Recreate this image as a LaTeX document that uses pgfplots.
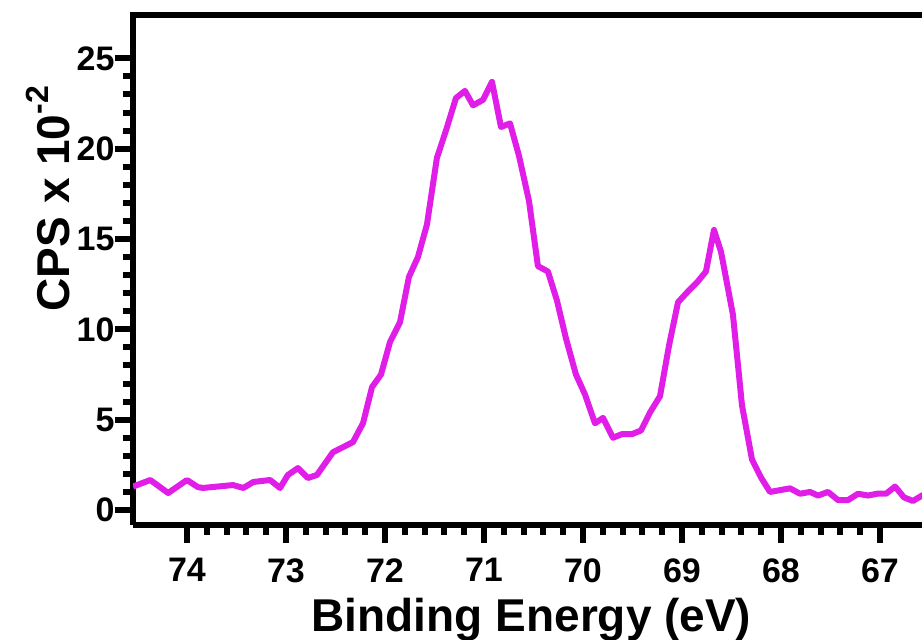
\documentclass[border=0pt]{standalone}
\usepackage{pgfplots}
\pgfplotsset{compat=1.18}
\usepackage{fontspec}
\setmainfont{Liberation Sans}
\definecolor{mag}{HTML}{E01EE8}
\begin{document}
\begin{tikzpicture}[x=1pt,y=1pt]
\begin{axis}[at={(0,0)},anchor=south west,scale only axis,
 width=797pt,height=510pt,
 x dir=reverse, xmin=66.495, xmax=74.545, ymin=-0.83, ymax=27.4,
 axis line style={line width=6pt},
 axis x line*=bottom, axis y line*=left,
 xtick={67,68,69,70,71,72,73,74}, minor x tick num=4,
 ytick={0,5,10,15,20,25}, minor y tick num=4,
 tick align=outside,
 major tick length=18pt, minor tick length=10pt,
 every tick/.style={line width=6pt,black},
 tick label style={font=\bfseries\fontsize{34}{34}\selectfont},
 /pgf/number format/assume math mode=true,
 xticklabel style={yshift=-12pt},
 yticklabel style={xshift=3pt},
 xlabel={\bfseries\fontsize{46}{46}\selectfont Binding Energy (eV)},
 ylabel={\bfseries\fontsize{46}{46}\selectfont CPS x 10\raisebox{0.45em}{\fontsize{32}{32}\selectfont -2}},
 xlabel style={at={(axis description cs:0.5,0)},anchor=base,yshift=-106pt},
 ylabel style={at={(axis description cs:-0.08,0.64)},anchor=base,rotate=0},
 clip=true]
\addplot[mag, line width=6pt, line join=round] coordinates {
(74.545,1.3)(74.505,1.38)(74.37,1.66)(74.19,0.94)(74.0,1.66)(73.89,1.27)(73.84,1.22)
(73.535,1.38)(73.43,1.22)(73.33,1.55)(73.16,1.66)(73.06,1.22)(72.98,1.94)(72.879,2.32)
(72.778,1.77)(72.687,1.94)(72.525,3.2)(72.323,3.76)(72.222,4.8)(72.131,6.8)(72.040,7.5)
(71.949,9.3)(71.848,10.4)(71.758,12.9)(71.667,14.0)(71.576,15.8)(71.475,19.5)(71.384,21.0)
(71.283,22.8)(71.192,23.2)(71.111,22.4)(71.010,22.7)(70.919,23.7)(70.828,21.2)(70.737,21.4)
(70.646,19.6)(70.545,17.1)(70.455,13.5)(70.354,13.2)(70.263,11.6)(70.172,9.5)(70.071,7.5)
(69.980,6.4)(69.879,4.8)(69.798,5.1)(69.697,4.0)(69.606,4.2)(69.505,4.2)(69.414,4.4)
(69.323,5.4)(69.222,6.3)(69.131,9.1)(69.040,11.5)(68.939,12.1)(68.848,12.6)(68.758,13.2)
(68.677,15.5)(68.606,14.3)(68.485,10.8)(68.394,5.8)(68.293,2.8)(68.202,1.8)(68.111,1.0)
(68.010,1.1)(67.909,1.2)(67.808,0.9)(67.707,1.0)(67.626,0.8)(67.525,1.0)(67.424,0.55)
(67.323,0.55)(67.222,0.9)(67.121,0.8)(67.030,0.9)(66.939,0.9)(66.848,1.3)(66.758,0.7)
(66.667,0.5)(66.576,0.8)(66.495,1.0)};
\end{axis}
\draw[line width=6pt] (-3,510) -- (800,510);
\pgfresetboundingbox
\useasboundingbox (-133,-115) rectangle (789,525);
\end{tikzpicture}
\end{document}
